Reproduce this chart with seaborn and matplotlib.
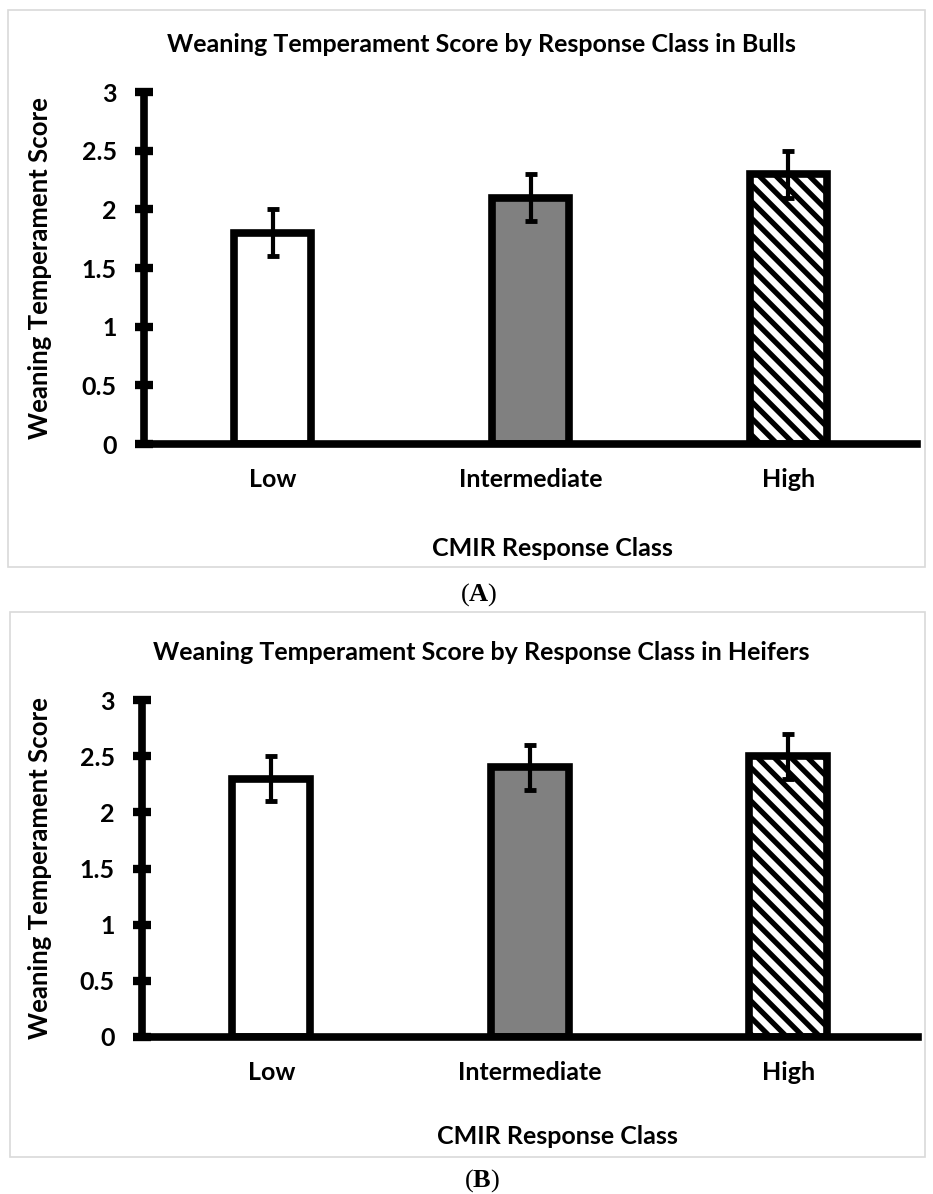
import matplotlib
matplotlib.use("Agg")
import matplotlib.pyplot as plt
import seaborn as sns
import pandas as pd
from matplotlib.patches import Rectangle

categories = ["Low", "Intermediate", "High"]
bulls_means = [1.8, 2.1, 2.3]
bulls_err = [0.2, 0.2, 0.2]
heifers_means = [2.3, 2.4, 2.5]
heifers_err = [0.2, 0.2, 0.2]
yticks = [0, 0.5, 1, 1.5, 2, 2.5, 3]
ytick_labels = ["0", "0.5", "1", "1.5", "2", "2.5", "3"]
titles = ["Weaning Temperament Score by Response Class in Bulls",
          "Weaning Temperament Score by Response Class in Heifers"]
ylabel = "Weaning Temperament Score"
xlabel = "CMIR Response Class"
panel_letters = ["A", "B"]
bar_colors = ["white", "#808080", "white"]
bar_hatches = ["", "", "\\\\"]

sns.set_theme(style="white")
plt.rcParams["font.family"] = ["Lato", "DejaVu Sans"]
plt.rcParams["hatch.linewidth"] = 3.8
plt.rcParams["mathtext.fontset"] = "custom"
plt.rcParams["mathtext.rm"] = "Liberation Serif"
plt.rcParams["mathtext.bf"] = "Liberation Serif:bold"

W, H = 933, 1194
fig = plt.figure(figsize=(W / 100, H / 100), dpi=100)

def fx(px):
    return px / W

def fy(py):
    return 1 - py / H

panels = [
    dict(left=144, right=917, top=92, bottom=444, title_y=45, ylab_x=40,
         xlab_x=552, xlab_y=548, box=(8, 10, 925, 567), letter_x=479, letter_y=595,
         means=bulls_means, errs=bulls_err),
    dict(left=142, right=917.5, top=700, bottom=1037, title_y=652, ylab_x=40,
         xlab_x=557, xlab_y=1137, box=(10, 612, 925, 1157), letter_x=482, letter_y=1181,
         means=heifers_means, errs=heifers_err),
]

for i, p in enumerate(panels):
    bx0, by0, bx1, by1 = p["box"]
    fig.patches.append(Rectangle((fx(bx0), fy(by1)), fx(bx1 - bx0), (by1 - by0) / H,
                                 transform=fig.transFigure, fill=False,
                                 edgecolor="#d9d9d9", linewidth=1.2, zorder=0))
    ax = fig.add_axes([fx(p["left"]), fy(p["bottom"]),
                       fx(p["right"] - p["left"]), (p["bottom"] - p["top"]) / H])
    df = pd.DataFrame({"cls": categories, "val": p["means"]})
    sns.barplot(data=df, x="cls", y="val", hue="cls", palette=bar_colors,
                order=categories, hue_order=categories, legend=False,
                edgecolor="black", linewidth=5.5, width=0.30, errorbar=None,
                saturation=1, ax=ax)
    for patch, h in zip(ax.patches, bar_hatches):
        if h:
            patch.set_hatch(h)
        patch.set_joinstyle("miter")
    ax.errorbar(x=list(range(len(categories))), y=p["means"], yerr=p["errs"],
                fmt="none", ecolor="black", elinewidth=3, capsize=4.5, capthick=3.5,
                zorder=5)
    ax.set_xlim(-0.5, 2.5)
    ax.set_ylim(0, 3)
    ax.set_yticks(yticks)
    ax.set_yticklabels(ytick_labels)
    ax.set_xlabel("")
    ax.set_ylabel("")
    for s in ["top", "right"]:
        ax.spines[s].set_visible(False)
    for s in ["left", "bottom"]:
        ax.spines[s].set_linewidth(5.5)
        ax.spines[s].set_color("black")
        ax.spines[s].set_capstyle("projecting")
    ax.tick_params(axis="y", direction="inout", length=13, width=6, color="black",
                   pad=13, labelsize=18, labelcolor="black", left=True)
    ax.tick_params(axis="x", length=0, pad=17, labelsize=18, labelcolor="black")
    for lab in ax.get_xticklabels() + ax.get_yticklabels():
        lab.set_fontweight("bold")
    ax.patch.set_visible(False)

    fig.text(fx(481), fy(p["title_y"]), titles[i], ha="center", va="center",
             fontsize=18, fontweight="bold", color="black")
    fig.text(fx(p["ylab_x"]), fy((p["top"] + p["bottom"]) / 2), ylabel,
             rotation=90, ha="center", va="center", fontsize=18.5,
             fontweight="bold", color="black")
    fig.text(fx(p["xlab_x"]), fy(p["xlab_y"]), xlabel, ha="center", va="center",
             fontsize=18, fontweight="bold", color="black")
    fig.text(fx(p["letter_x"]), fy(p["letter_y"]), r"($\mathbf{%s}$)" % panel_letters[i],
             ha="center", va="center", fontsize=19, color="black",
             family="Liberation Serif")

fig.savefig("out.png", dpi=100, facecolor="white")
